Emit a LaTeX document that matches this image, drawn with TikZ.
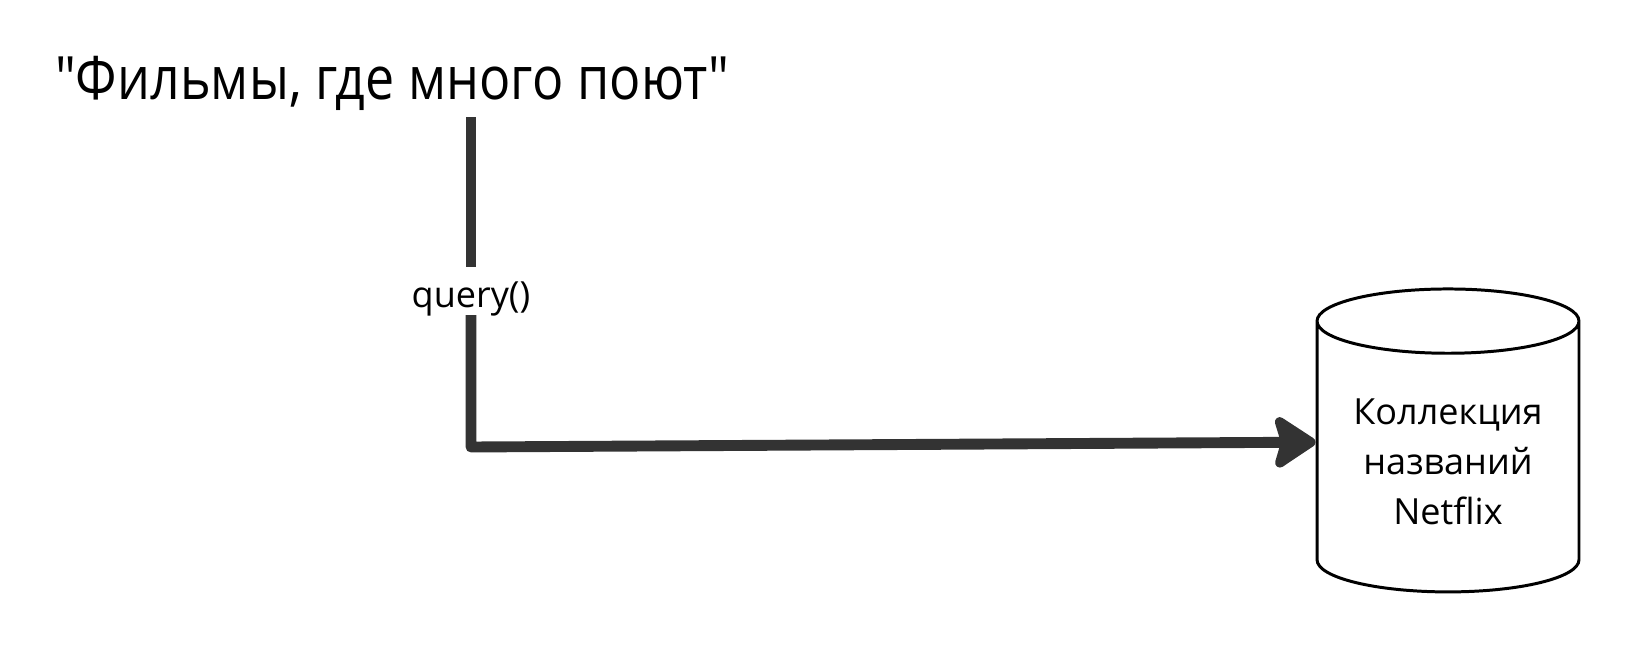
\documentclass[tikz,border=0pt]{standalone}
\usepackage{fontspec}
\setmainfont{Open Sans}[Ligatures=TeXOff]
\usetikzlibrary{shapes.geometric,arrows.meta}

\begin{document}
\begin{tikzpicture}[x=0.02cm, y=-0.02cm,
    flow/.style={line width=6.2pt, draw=black!80, line join=round},
    db/.style={cylinder, shape border rotate=90, draw, line width=1.7pt, aspect=0.32,
        minimum width=5.24cm, minimum height=6.06cm, align=center,
        font=\fontsize{20.5}{28.5}\selectfont}]
    \useasboundingbox (0,0) rectangle (1632,656);

    % Query text
    \node[anchor=base] (title) at (392,99)
        {\fontsize{34}{40}\selectfont\scalebox{0.87}[1]{"Фильмы, где много поют"}};

    % Collection
    \node[db] (coll) at (1448,462) {Коллекция\\названий\\Netflix};

    % Call
    \coordinate (start) at (471,117);
    \coordinate (corner) at (471,447);
    \node[inner sep=3pt, text height=20pt, text depth=1pt, font=\fontsize{20.5}{24}\selectfont]
        (call) at (471,291) {query()};
    \draw[flow] (start) -- (call.north);
    \draw[flow, -{Stealth[length=27pt, width=35pt, inset=5pt, round]}]
        (call.south) -- (corner) -- ([yshift=11.3pt]coll.west);
\end{tikzpicture}
\end{document}
